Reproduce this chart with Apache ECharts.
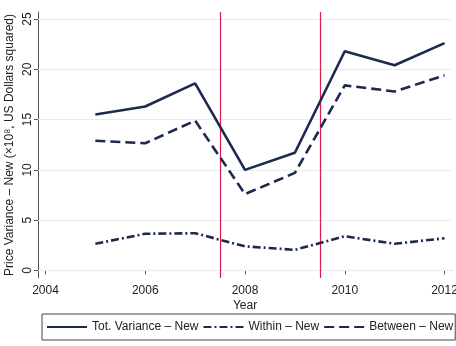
<!DOCTYPE html>
<html>
<head>
<meta charset="utf-8">
<script src="https://cdn.jsdelivr.net/npm/echarts@6/dist/echarts.min.js"></script>
<style>
  html, body { margin: 0; padding: 0; background: #fff; }
  #chart { width: 456px; height: 346px; }
</style>
</head>
<body>
<div id="chart"></div>
<script>
const years = [2005, 2006, 2007, 2008, 2009, 2010, 2011, 2012]
const totVariance = [15.5, 16.3, 18.6, 10.0, 11.7, 21.8, 20.4, 22.6]
const withinNew = [2.65, 3.65, 3.7, 2.4, 2.05, 3.4, 2.65, 3.2]
const betweenNew = [12.9, 12.65, 14.9, 7.6, 9.7, 18.4, 17.8, 19.4]
const xTicks = [2004, 2006, 2008, 2010, 2012]
const yTicks = [0, 5, 10, 15, 20, 25]
const breakYears = [2007.5, 2009.5]

const navy = '#1c2a4e'
const crimson = '#dc1a4c'
const fontFamily = '"Liberation Sans", Arial, sans-serif'

const pairs = (vals) => years.map((y, i) => [y, vals[i]])

const myChart = echarts.init(document.getElementById('chart'), null, { renderer: 'canvas' })

const option = {
  backgroundColor: '#fff',
  animation: false,
  textStyle: { fontFamily },
  grid: {
    left: 38,
    right: 4,
    top: 12,
    bottom: 68,
    outerBoundsMode: 'none',
    containLabel: false,
  },
  legend: {
    bottom: 6,
    left: 42,
    width: 420,
    itemWidth: 40,
    itemHeight: 10,
    itemGap: 4,
    padding: [7, 2, 7, 4],
    borderColor: '#444',
    borderWidth: 1,
    itemStyle: { opacity: 0 },
    textStyle: { fontSize: 12, color: '#222', fontFamily },
    data: ['Tot. Variance – New', 'Within – New', 'Between – New'],
  },
  xAxis: {
    type: 'value',
    min: 2003.85,
    max: 2012.15,
    name: 'Year',
    nameLocation: 'middle',
    nameGap: 22,
    nameMoveOverlap: false,
    nameTextStyle: { fontSize: 12, color: '#222' },
    axisLine: { show: true, lineStyle: { color: '#555', width: 1 } },
    axisTick: { show: true, length: 4, customValues: xTicks, lineStyle: { color: '#555' } },
    axisLabel: {
      customValues: xTicks,
      fontSize: 12,
      color: '#222',
      margin: 7,
      formatter: (v) => String(v),
    },
    splitLine: { show: false },
  },
  yAxis: {
    type: 'value',
    min: -0.75,
    max: 25.7,
    name: 'Price Variance – New (×10⁸, US Dollars squared)',
    nameLocation: 'middle',
    nameGap: 22,
    nameMoveOverlap: false,
    nameTextStyle: { fontSize: 12, color: '#222' },
    axisLine: { show: true, lineStyle: { color: '#555', width: 1 } },
    axisTick: { show: true, length: 4, customValues: yTicks, lineStyle: { color: '#555' } },
    axisLabel: { customValues: yTicks, fontSize: 12, color: '#222', rotate: 90, margin: 4 },
    splitLine: { show: false },
  },
  series: [
    {
      name: 'Tot. Variance – New',
      type: 'line',
      data: pairs(totVariance),
      symbol: 'none',
      color: navy,
      lineStyle: { color: navy, width: 2.6, type: 'solid' },
      z: 5,
    },
    {
      name: 'Within – New',
      type: 'line',
      data: pairs(withinNew),
      symbol: 'none',
      color: navy,
      lineStyle: { color: navy, width: 2.6, type: [8, 3, 2, 3] },
      z: 5,
    },
    {
      name: 'Between – New',
      type: 'line',
      data: pairs(betweenNew),
      symbol: 'none',
      color: navy,
      lineStyle: { color: navy, width: 2.6, type: [10, 5] },
      z: 5,
    },
    {
      // 水平网格线
      name: 'grid',
      type: 'line',
      data: [],
      markLine: {
        silent: true,
        symbol: 'none',
        label: { show: false },
        lineStyle: { color: '#e8eeee', width: 1, type: 'solid' },
        data: yTicks.map((v) => ({ yAxis: v })),
      },
      z: 1,
    },
    {
      // 竖线
      name: 'breaks',
      type: 'line',
      data: [],
      color: crimson,
      markLine: {
        silent: true,
        symbol: 'none',
        label: { show: false },
        lineStyle: { color: crimson, width: 1.2, type: 'solid', opacity: 1 },
        data: breakYears.map((y) => ({ xAxis: y })),
      },
      z: 3,
    },
  ],
}

myChart.setOption(option, true)
</script>
</body>
</html>
